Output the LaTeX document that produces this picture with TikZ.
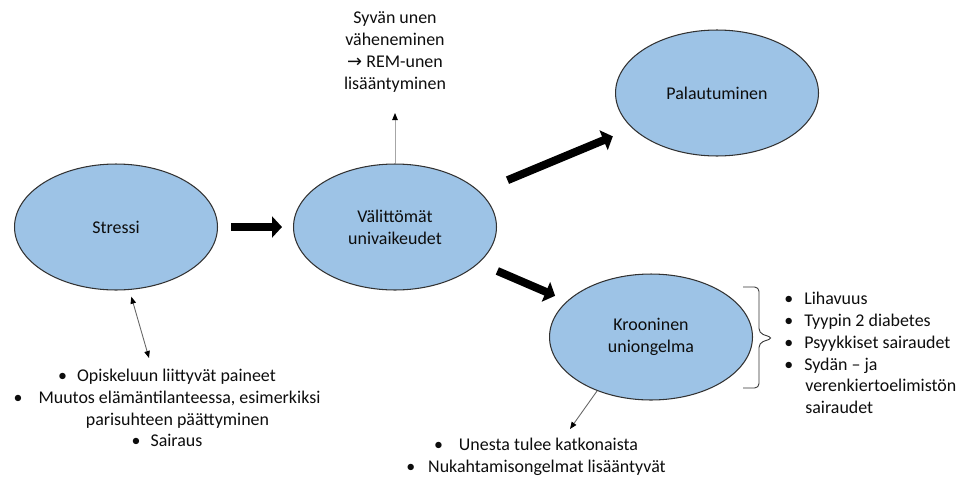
\documentclass[tikz,border=0pt]{standalone}
\usepackage{fontspec}
\setmainfont{Carlito}
\newfontfamily\unsym{DejaVu Sans}
\usepackage{tikz}
\usetikzlibrary{arrows.meta,shapes.geometric}
\newcommand\unbul[1]{\textbullet\hspace{#1}}

\begin{document}
\begin{tikzpicture}[x=0.02cm, y=-0.02cm,
					font=\fontsize{10.2}{12.4}\selectfont
					]
					\definecolor{unblue}{RGB}{157,195,230}
					\definecolor{untext}{RGB}{13,13,13}
					\definecolor{unline}{RGB}{50,50,50}
					\tikzset{
						unellipse/.style={
							shape=ellipse,
							draw=unline,
							line width=0.6pt,
							fill=unblue,
							minimum width=4.06cm,
							minimum height=2.52cm,
							inner sep=0pt,
							align=center,
							text=untext
						},
						untext/.style={inner sep=0pt, text=untext},
						unbig/.style={draw=black, line width=0.16cm, -{Triangle[length=0.2cm,width=0.42cm]}},
						untip/.tip={Triangle[length=0.14cm,width=0.11cm,color=black]},
						unthin/.style={draw=black!60, line width=0.5pt, -untip},
						unboth/.style={draw=black!60, line width=0.5pt, untip-untip},
						unbrace/.style={draw=unline, line width=0.5pt, rounded corners=2.5pt}
					}
					\useasboundingbox (0,0) rectangle (959,477);
					
					% ellipses
					\node[unellipse] (stressi) at (116,227) {Stressi};
					\node[unellipse] (valit) at (395,227) {Välittömät\\univaikeudet};
					\node[unellipse] (palaut) at (717,93) {Palautuminen};
					\node[unellipse] (kroon) at (651,337) {Krooninen\\uniongelma};
					
					% texts
					\node[untext, align=center] (syva) at (395,52) {Syvän unen\\väheneminen\\{\unsym →} REM-unen\\lisääntyminen};
					\node[untext, align=center] (stlist) at (167,408) {\unbul{0.2cm}Opiskeluun liittyvät paineet\\
						\unbul{0.32cm}Muutos elämäntilanteessa, esimerkiksi\\
						\hspace*{0.42cm}parisuhteen päättyminen\\
						\unbul{0.2cm}Sairaus};
					\node[untext, align=center] (krlist) at (536,457) {\unbul{0.32cm}Unesta tulee katkonaista\\
						\unbul{0.26cm}Nukahtamisongelmat lisääntyvät};
					\node[untext, align=left, anchor=west] (sairlist) at (784,353) {\unbul{0.22cm}Lihavuus\\
						\unbul{0.22cm}Tyypin 2 diabetes\\
						\unbul{0.22cm}Psyykkiset sairaudet\\
						\unbul{0.22cm}Sydän – ja\\
						\hspace*{0.42cm}verenkiertoelimistön\\
						\hspace*{0.42cm}sairaudet};
					
					% big arrows
					\draw[unbig, shorten <=0.26cm, shorten >=0.22cm] (stressi) -- (valit);
					\draw[unbig, shorten <=0.6cm, shorten >=0.42cm] (valit) -- (palaut);
					\draw[unbig, shorten <=0.4cm, shorten >=0.26cm] (valit) -- (kroon);
					
					% thin arrows
					\coordinate (syvaEnd) at (395,113);
					\coordinate (stEnd) at (149,358);
					\coordinate (krEnd) at (570,429);
					\draw[unthin, draw=black!35] (valit.north) -- (syvaEnd);
					\draw[unboth, shorten <=0.14cm] (stressi.-78) -- (stEnd);
					\draw[unthin] (kroon.-135.5) -- (krEnd);
					
					% brace
					\draw[unbrace] (743,287) -- (759,287) -- (759,333) -- (773,338) -- (759,343) -- (759,388) -- (743,388);
				\end{tikzpicture}
\end{document}
